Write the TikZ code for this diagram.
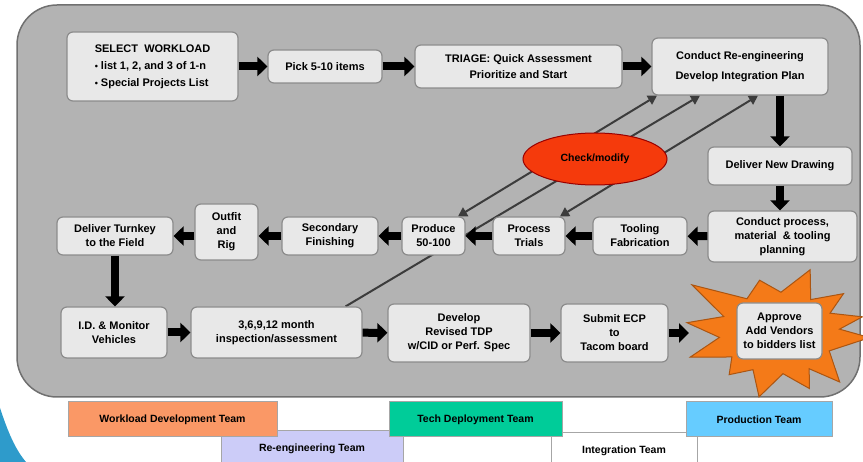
\documentclass[tikz,border=0pt]{standalone}
\usepackage{fontspec}
\setmainfont{Liberation Sans}
\usetikzlibrary{arrows.meta,shapes.geometric}
\pgfdeclarelayer{panel}
\pgfdeclarelayer{links}
\pgfsetlayers{panel,links,main}
\definecolor{panelgray}{HTML}{B3B3B3}
\definecolor{paneledge}{HTML}{707070}
\definecolor{boxfill}{HTML}{E8E8E8}
\definecolor{boxline}{HTML}{8C8C8C}
\definecolor{linkgray}{HTML}{3C3C3C}
\definecolor{checkred}{HTML}{F53A0C}
\definecolor{burstorange}{HTML}{F47A18}
\definecolor{cornerblue}{HTML}{2E9BCB}
\definecolor{workloadc}{HTML}{FA9866}
\definecolor{reengc}{HTML}{CCCCF8}
\definecolor{techc}{HTML}{00CC99}
\definecolor{prodc}{HTML}{66CCFF}
\begin{document}
\begin{tikzpicture}[x=1pt,y=-1pt,
  font=\fontsize{11}{14}\selectfont\bfseries,
  stage/.style={draw=boxline,fill=boxfill,line width=1.2pt,rounded corners=6pt,align=center,inner sep=0pt},
  flow/.style={line width=8pt,-{Triangle[length=10pt,width=19pt]}},
  feedback/.style={draw=linkgray,line width=2pt,{Triangle[length=9pt,width=10pt]}-{Triangle[length=9pt,width=10pt]}},
  feedbackup/.style={draw=linkgray,line width=2pt,-{Triangle[length=9pt,width=10pt]}},
  team/.style={draw=gray!70,line width=1pt,minimum height=35pt,inner sep=0pt,font=\fontsize{10.5}{12}\selectfont\bfseries}]
\useasboundingbox (0,0) rectangle (863,462);
% background panel
\begin{pgfonlayer}{panel}
\fill[cornerblue] (0,408) .. controls (8,432) and (15,449) .. (26,462) -- (0,462) -- cycle;
\draw[fill=panelgray,draw=paneledge,line width=1.5pt,rounded corners=40pt] (17,5) rectangle (860,397);
\end{pgfonlayer}
% top row
\node[stage,minimum width=171,minimum height=69,align=left,font=\fontsize{11}{17}\selectfont\bfseries] (sel) at (152.5,66.5)
  {SELECT\ \ WORKLOAD\\ {\small\textbullet}\ list 1, 2, and 3 of 1-n\\ {\small\textbullet}\ Special Projects List};
\node[stage,minimum width=114,minimum height=33] (pick) at (325,66.5) {Pick 5-10 items};
\node[stage,minimum width=207,minimum height=43,font=\fontsize{11}{16}\selectfont\bfseries] (tri) at (518.5,66.5) {TRIAGE: Quick Assessment\\Prioritize and Start};
\node[stage,minimum width=176,minimum height=57,font=\fontsize{11}{20}\selectfont\bfseries] (cre) at (740,66.5) {Conduct Re-engineering\\Develop Integration Plan};
\node[stage,minimum width=144,minimum height=38] (dnd) at (780,166) {Deliver New Drawing};
% middle row
\node[stage,minimum width=149,minimum height=51] (cpp) at (782.5,236.5) {Conduct process,\\material \ \& tooling\\planning};
\node[stage,minimum width=94,minimum height=38] (tool) at (640,236) {Tooling\\Fabrication};
\node[stage,minimum width=72,minimum height=38] (proc) at (529,236) {Process\\Trials};
\node[stage,minimum width=63,minimum height=38] (prod) at (433.5,236) {Produce\\50-100};
\node[stage,minimum width=96,minimum height=38] (sec) at (330,236) {Secondary\\Finishing};
\node[stage,minimum width=63,minimum height=56] (outf) at (226.5,232) {Outfit\\and\\Rig};
\node[stage,minimum width=116,minimum height=38] (turn) at (115,236) {Deliver Turnkey\\to the Field};
% bottom row
\node[stage,minimum width=106,minimum height=51] (idm) at (114,332.5) {I.D. \& Monitor\\Vehicles};
\node[stage,minimum width=171,minimum height=51] (insp) at (276.5,332.5) {3,6,9,12 month\\inspection/assessment};
\node[stage,minimum width=142,minimum height=58] (dev) at (459,333) {Develop\\Revised TDP\\w/CID or Perf. Spec};
\node[stage,minimum width=107,minimum height=58] (ecp) at (614.5,333) {Submit ECP\\to\\Tacom board};
% feedback lines
\begin{pgfonlayer}{links}
\draw[feedback] ([xshift=24.5]prod.north) -- ([xshift=-83]cre.south);
\draw[feedbackup] ([xshift=-17]insp.north east) -- ([xshift=-40]cre.south);
\draw[feedback] ([xshift=31]proc.north) -- ([xshift=18]cre.south);
\end{pgfonlayer}
\node[ellipse,draw=red!60!black,fill=checkred,line width=1pt,minimum width=144,minimum height=52,font=\fontsize{10.5}{12}\selectfont\bfseries] (chk) at (595,159) {Check/modify};
% approval burst
\draw[fill=burstorange,draw=burstorange!70!black,line width=1pt]
  ([shift={(4:92 and 66)}]778,333)
  \foreach \a/\f [evaluate=\f as \rx using 95*\f, evaluate=\f as \ry using 68*\f] in
    {26/.6,48/.97,58/.62,68/.88,85/.6,102/.96,116/.6,130/.8,144/.6,159/.99,174/.62,189/.97,
     203/.62,218/1.15,237/.6,256/.8,273/.6,290/.99,305/.6,320/.9,332/.62,345/.92,355/.65}
  { -- ([shift={({\a}:{\rx} and {\ry})}]778,333) } -- cycle;
\coordinate (burstW) at (689,333);
\node[stage,minimum width=85,minimum height=56] (appr) at (779.5,331) {Approve\\Add Vendors\\to bidders list};
% flow arrows
\draw[flow] (sel) -- (pick);
\draw[flow] (pick) -- (tri);
\draw[flow] (tri) -- (cre);
\draw[flow] (cre.south -| dnd) -- (dnd);
\draw[flow] (dnd) -- (dnd |- cpp.north);
\draw[flow] (cpp) -- (tool);
\draw[flow] (tool) -- (proc);
\draw[flow] (proc) -- (prod);
\draw[flow] (prod) -- (sec);
\draw[flow] (sec) -- (sec -| outf.east);
\draw[flow] (outf.west |- turn) -- (turn);
\draw[flow] (turn) -- (turn |- idm.north);
\draw[flow] (idm) -- (insp);
\draw[flow] (insp) -- (dev);
\draw[flow] (dev) -- (ecp);
\draw[flow] (ecp) -- (burstW);
% teams
\node[team,fill=reengc,minimum width=182] (reteam) at (312,448.5) {Re-engineering Team};
\node[team,fill=white,minimum width=146] (intteam) at (624,450.5) {Integration Team};
\node[team,fill=workloadc,minimum width=209] (wlteam) at (172.5,419.5) {Workload Development Team};
\node[team,fill=techc,minimum width=173] (techteam) at (475.5,419.5) {Tech Deployment Team};
\node[team,fill=prodc,minimum width=146] (prodteam) at (759,419.5) {Production Team};
\end{tikzpicture}
\end{document}
